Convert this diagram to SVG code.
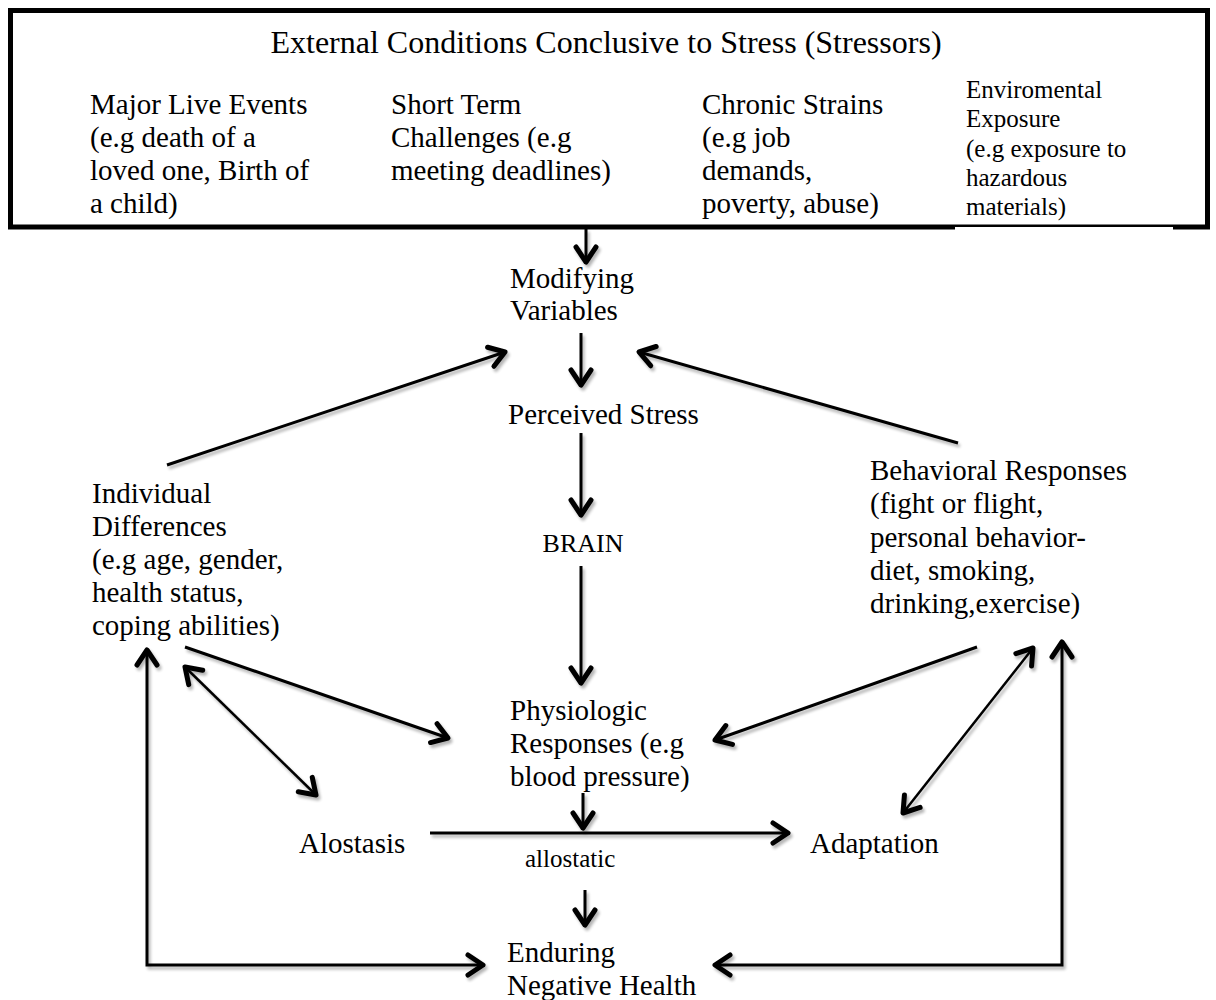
<svg xmlns="http://www.w3.org/2000/svg" width="1216" height="1000" viewBox="0 0 1216 1000">
<defs>
<style>
text{font-family:"Liberation Serif","Times New Roman",serif;fill:#000;}
.t{font-size:29px;}
.s{font-size:25px;}
.h{font-size:32px;}
.c{fill:none;stroke:#000;stroke-width:3;}
.d{fill:none;stroke:#000;stroke-width:2.5;}
</style>
<marker id="ah" viewBox="-20 -14 24 28" markerWidth="24" markerHeight="28" refX="0" refY="0" orient="auto-start-reverse" markerUnits="userSpaceOnUse">
<path d="M-15,-10 L0,0 L-15,10" fill="none" stroke="#000" stroke-width="5" stroke-linecap="round" stroke-linejoin="round"/>
</marker>
<filter id="sh" filterUnits="userSpaceOnUse" x="0" y="0" width="1216" height="1000">
<feGaussianBlur in="SourceAlpha" stdDeviation="1.6"/>
<feOffset dx="2" dy="3" result="b"/>
<feComponentTransfer><feFuncA type="linear" slope="0.3"/></feComponentTransfer>
<feMerge><feMergeNode/><feMergeNode in="SourceGraphic"/></feMerge>
</filter>
</defs>
<rect width="1216" height="1000" fill="#fff"/>

<g id="stressors">
<rect x="10.5" y="10.5" width="1197" height="216.5" fill="#fff" stroke="#000" stroke-width="5"/>
<rect x="955" y="227" width="218" height="3" fill="#fff"/>
<text class="h" x="606" y="53" text-anchor="middle">External Conditions Conclusive to Stress (Stressors)</text>
<text class="t" x="90" y="114">Major Live Events</text>
<text class="t" x="90" y="147">(e.g death of a</text>
<text class="t" x="90" y="180">loved one, Birth of</text>
<text class="t" x="90" y="213">a child)</text>
<text class="t" x="391" y="114">Short Term</text>
<text class="t" x="391" y="147">Challenges (e.g</text>
<text class="t" x="391" y="180">meeting deadlines)</text>
<text class="t" x="702" y="114">Chronic Strains</text>
<text class="t" x="702" y="147">(e.g job</text>
<text class="t" x="702" y="180">demands,</text>
<text class="t" x="702" y="213">poverty, abuse)</text>
<text class="s" x="966" y="98">Enviromental</text>
<text class="s" x="966" y="127">Exposure</text>
<text class="s" x="966" y="157">(e.g exposure to</text>
<text class="s" x="966" y="186">hazardous</text>
<text class="s" x="966" y="215">materials)</text>
</g>

<g id="modifying"><text class="t" x="510" y="288">Modifying</text><text class="t" x="510" y="320">Variables</text></g>
<g id="perceived"><text class="t" x="508" y="424">Perceived Stress</text></g>
<g id="brain"><text class="t" x="583" y="552" text-anchor="middle" style="font-size:26px">BRAIN</text></g>
<g id="individual">
<text class="t" x="92" y="503">Individual</text>
<text class="t" x="92" y="536">Differences</text>
<text class="t" x="92" y="569">(e.g age, gender,</text>
<text class="t" x="92" y="602">health status,</text>
<text class="t" x="92" y="635">coping abilities)</text>
</g>
<g id="behavioral">
<text class="t" x="870" y="480">Behavioral Responses</text>
<text class="t" x="870" y="513">(fight or flight,</text>
<text class="t" x="870" y="547">personal behavior-</text>
<text class="t" x="870" y="580">diet, smoking,</text>
<text class="t" x="870" y="613">drinking,exercise)</text>
</g>
<g id="physiologic">
<text class="t" x="510" y="720">Physiologic</text>
<text class="t" x="510" y="753">Responses (e.g</text>
<text class="t" x="510" y="786">blood pressure)</text>
</g>
<g id="alostasis"><text class="t" x="299" y="853">Alostasis</text></g>
<g id="adaptation"><text class="t" x="810" y="853">Adaptation</text></g>
<g id="allostatic-label"><text class="s" x="525" y="867">allostatic</text></g>
<g id="enduring"><text class="t" x="507" y="962">Enduring</text><text class="t" x="507" y="995">Negative Health</text></g>

<g id="connectors" filter="url(#sh)">
<path class="c" d="M586,229 V262" marker-end="url(#ah)"/>
<path class="c" d="M581,333 V385" marker-end="url(#ah)"/>
<path class="c" d="M581,433 V515" marker-end="url(#ah)"/>
<path class="c" d="M581,566 V683" marker-end="url(#ah)"/>
<path class="c" d="M583,793 V828" marker-end="url(#ah)"/>
<path class="c" d="M585,890 V925" marker-end="url(#ah)"/>
<path class="c" d="M430,833 H788" marker-end="url(#ah)"/>
<path class="c" d="M167,465 L505,352" marker-end="url(#ah)"/>
<path class="c" d="M958,443 L639,352" marker-end="url(#ah)"/>
<path class="c" d="M185,647 L448,738" marker-end="url(#ah)"/>
<path class="c" d="M977,647 L715,740" marker-end="url(#ah)"/>
<path class="d" d="M185,667 L316,795" marker-start="url(#ah)" marker-end="url(#ah)"/>
<path class="d" d="M1033,648 L903,813" marker-start="url(#ah)" marker-end="url(#ah)"/>
<path class="c" d="M147,650 V965 H483" marker-start="url(#ah)" marker-end="url(#ah)"/>
<path class="c" d="M1062,642 V965 H715" marker-start="url(#ah)" marker-end="url(#ah)"/>
</g>
</svg>
